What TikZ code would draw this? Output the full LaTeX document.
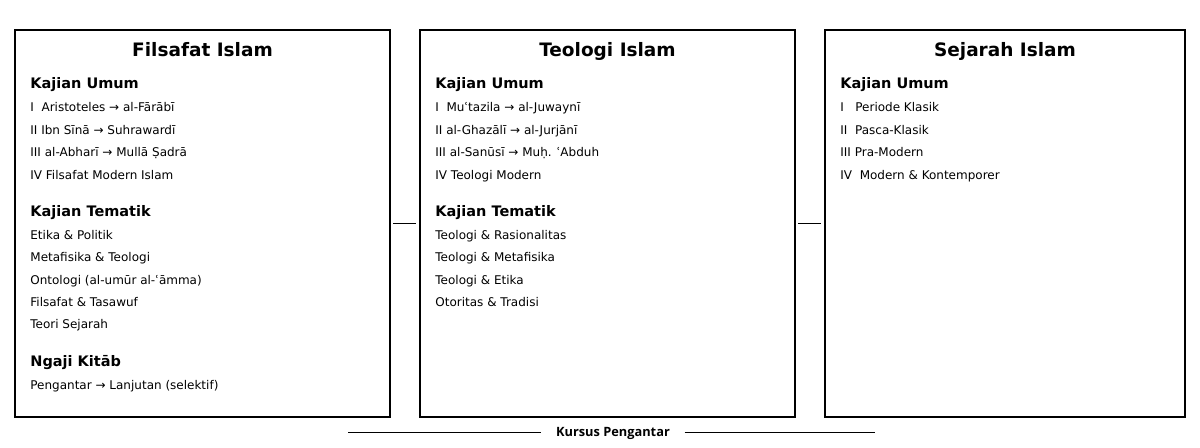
\documentclass[tikz,border=0pt]{standalone}
\usepackage{fontspec}
\setmainfont{DejaVu Sans}
\newfontfamily\kursusfont{Open Sans}
\usepackage{tikz}
\usetikzlibrary{positioning}
\usetikzlibrary{calc}
\tikzset{
	panel/.style={
		draw, line width=0.8pt, inner sep=0pt, outer sep=0pt, minimum height=193.5pt
	},
	paneltitle/.style={
		font=\bfseries\fontsize{9.25}{11}\selectfont, anchor=base, inner sep=0pt
	},
	sectionhead/.style={
		font=\bfseries\fontsize{7.25}{9}\selectfont, anchor=base west, inner sep=0pt
	},
	entry/.style={
		font=\fontsize{6}{7.5}\selectfont, anchor=base west, inner sep=0pt
	},
	link/.style={
		line width=0.65pt, shorten <=1.6pt, shorten >=1.8pt
	},
	kursus/.style={
		font=\kursusfont\bfseries\fontsize{6.4}{8}\selectfont,
		inner xsep=7.2pt, inner ysep=0pt, text height=4.6pt, text depth=1.3pt
	},
	rule/.style={
		line width=0.5pt
	}
}

\begin{document}
\begin{tikzpicture}[x=0.5pt, y=-0.5pt, node distance=15pt]
	\useasboundingbox (0,0) rectangle (1200,447);

	\node[panel, minimum width=187.5pt] (filsafat) at (202.5,223.6) {};
	\node[panel, minimum width=187.5pt, right=of filsafat] (teologi) {};
	\node[panel, minimum width=180pt, right=of teologi] (sejarah) {};

	\node[paneltitle] (filsafat-title) at ([yshift=-13.4pt]filsafat.north) {Filsafat Islam};
	\node[paneltitle] (teologi-title) at ([yshift=-13.4pt]teologi.north) {Teologi Islam};
	\node[paneltitle] (sejarah-title) at ([yshift=-13.4pt]sejarah.north) {Sejarah Islam};

	% Filsafat Islam
	\node[sectionhead] (fil-umum) at ($(filsafat.north west)+(15,58.8)$) {Kajian Umum};
	\foreach \t [count=\i] in {I\ \ Aristoteles → al-Fārābī, II Ibn Sīnā → Suhrawardī,
		III al-Abharī → Mullā Ṣadrā, IV Filsafat Modern Islam}
		\node[entry] (fil-umum-\i) at ($(fil-umum.base west)+(0,22.4*\i+0.6)$) {\t};
	\node[sectionhead] (fil-tema) at ($(fil-umum-4.base west)+(0,37.2)$) {Kajian Tematik};
	\foreach \t [count=\i] in {Etika \& Politik, Metafisika \& Teologi, Ontologi (al-umūr al-ʿāmma),
		Filsafat \& Tasawuf, Teori Sejarah}
		\node[entry] (fil-tema-\i) at ($(fil-tema.base west)+(0,22.4*\i+0.6)$) {\t};
	\node[sectionhead] (fil-kitab) at ($(fil-tema-5.base west)+(0,37.2)$) {Ngaji Kitāb};
	\node[entry] (fil-kitab-1) at ($(fil-kitab.base west)+(0,23)$) {Pengantar → Lanjutan (selektif)};

	% Teologi Islam
	\node[sectionhead] (teo-umum) at ($(teologi.north west)+(15,58.8)$) {Kajian Umum};
	\foreach \t [count=\i] in {I\ \ Muʿtazila → al-Juwaynī, II al-Ghazālī → al-Jurjānī,
		III al-Sanūsī → Muḥ. ʿAbduh, IV Teologi Modern}
		\node[entry] (teo-umum-\i) at ($(teo-umum.base west)+(0,22.4*\i+0.6)$) {\t};
	\node[sectionhead] (teo-tema) at ($(teo-umum-4.base west)+(0,37.2)$) {Kajian Tematik};
	\foreach \t [count=\i] in {Teologi \& Rasionalitas, Teologi \& Metafisika, Teologi \& Etika,
		Otoritas \& Tradisi}
		\node[entry] (teo-tema-\i) at ($(teo-tema.base west)+(0,22.4*\i+0.6)$) {\t};

	% Sejarah Islam
	\node[sectionhead] (sej-umum) at ($(sejarah.north west)+(15,58.8)$) {Kajian Umum};
	\foreach \t [count=\i] in {I\ \ \ Periode Klasik, II\ \ Pasca-Klasik, III Pra-Modern,
		IV\ \ Modern \& Kontemporer}
		\node[entry] (sej-umum-\i) at ($(sej-umum.base west)+(0,22.4*\i+0.6)$) {\t};

	\draw[link] (filsafat) -- (teologi);
	\draw[link] (teologi) -- (sejarah);

	\node[kursus] (kursus) at (613,432.7) {Kursus Pengantar};
	\coordinate (kursus-l) at (348,432.7);
	\coordinate (kursus-r) at (875,432.7);
	\draw[rule] (kursus-l) -- (kursus);
	\draw[rule] (kursus) -- (kursus-r);
\end{tikzpicture}
\end{document}
